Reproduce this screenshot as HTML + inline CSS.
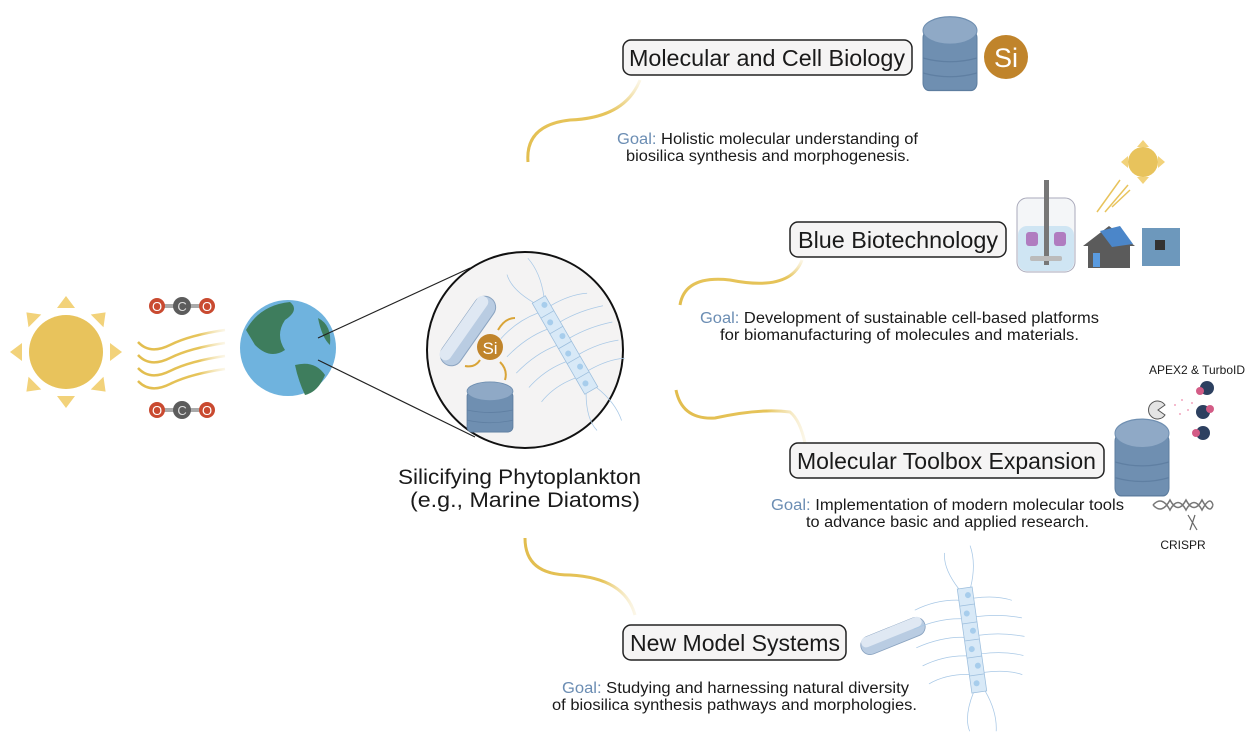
<!DOCTYPE html>
<html><head><meta charset="utf-8"><style>
html,body{margin:0;padding:0;background:#fff}
svg{display:block}
text{font-family:"Liberation Sans",sans-serif;fill:#1a1a1a}
</style></head><body>
<svg width="1250" height="739" viewBox="0 0 1250 739" xmlns="http://www.w3.org/2000/svg">
<defs>
<linearGradient id="fadeUp" x1="0" y1="1" x2="0" y2="0"><stop offset="0" stop-color="#e2bd4e"/><stop offset="0.6" stop-color="#e6c45a"/><stop offset="1" stop-color="#f3e3b2" stop-opacity="0.3"/></linearGradient>
<linearGradient id="fadeR" x1="0" y1="0" x2="1" y2="0"><stop offset="0" stop-color="#e2bd4e"/><stop offset="0.7" stop-color="#e6c45a"/><stop offset="1" stop-color="#f3e3b2" stop-opacity="0.3"/></linearGradient>
<g id="cyl">
<rect x="-27" y="-22" width="54" height="48" rx="6" fill="#6f8fb1"/>
<rect x="-27" y="-22" width="54" height="48" rx="6" fill="none" stroke="#5d7d9f" stroke-width="1"/>
<path d="M-27 0 Q0 6 27 0 M-27 12 Q0 18 27 12" stroke="#5f7fa2" fill="none"/>
<ellipse cx="0" cy="-22" rx="27" ry="11" fill="#8fa9c6" stroke="#6f8fb1"/>
</g>
<g id="pen">
<rect x="-40" y="-11" width="80" height="22" rx="11" fill="#b9cce2" stroke="#8aa3c0"/>
<rect x="-38" y="-11" width="76" height="12" rx="6" fill="#dfe8f3"/>
</g>
<g id="chain" stroke="#a8c8e6" fill="none" stroke-width="1">
<path d="M-8 -70 Q-25 -100 -20 -120 M8 -70 Q20 -100 15 -125 M-8 70 Q-25 100 -20 120 M8 70 Q20 100 15 125"/>
<path d="M-10 -55 Q-40 -60 -70 -50 M10 -55 Q40 -55 60 -45 M-10 -30 Q-40 -35 -75 -25 M10 -30 Q40 -30 70 -20 M-10 -5 Q-40 -10 -75 0 M10 -5 Q40 -5 70 5 M-10 20 Q-40 15 -70 25 M10 20 Q40 20 65 30 M-10 45 Q-40 40 -65 50 M10 45 Q40 45 60 55"/>
<rect x="-10" y="-70" width="20" height="140" fill="#d8e9f7" stroke="#9cbedd"/>
<path d="M-10 -47 H10 M-10 -23 H10 M-10 0 H10 M-10 23 H10 M-10 47 H10" stroke="#9cbedd"/>
<g fill="#a7cdec" stroke="none"><circle cx="3" cy="-60" r="4"/><circle cx="-2" cy="-36" r="4"/><circle cx="3" cy="-12" r="4"/><circle cx="-2" cy="12" r="4"/><circle cx="3" cy="35" r="4"/><circle cx="-2" cy="58" r="4"/></g>
</g>
<g id="co2">
<rect x="-25" y="-2" width="50" height="4" fill="#aaa"/>
<circle cx="-25" cy="0" r="8" fill="#c94a30"/><circle cx="0" cy="0" r="9" fill="#5c5c5c"/><circle cx="25" cy="0" r="8" fill="#c94a30"/>
<text x="-25" y="5" font-size="13" text-anchor="middle" style="fill:#fff">O</text>
<text x="0" y="5" font-size="13" text-anchor="middle" style="fill:#ddd">C</text>
<text x="25" y="5" font-size="13" text-anchor="middle" style="fill:#fff">O</text>
</g>
</defs>

<!-- Sun -->
<g fill="#f2d27a" transform="translate(66,352)">
<polygon points="0,-56 9,-44 -9,-44"/>
<polygon points="0,-56 9,-44 -9,-44" transform="rotate(45)"/>
<polygon points="0,-56 9,-44 -9,-44" transform="rotate(90)"/>
<polygon points="0,-56 9,-44 -9,-44" transform="rotate(135)"/>
<polygon points="0,-56 9,-44 -9,-44" transform="rotate(180)"/>
<polygon points="0,-56 9,-44 -9,-44" transform="rotate(225)"/>
<polygon points="0,-56 9,-44 -9,-44" transform="rotate(270)"/>
<polygon points="0,-56 9,-44 -9,-44" transform="rotate(315)"/>
</g>
<circle cx="66" cy="352" r="37" fill="#e8c35c"/>
<!-- waves -->
<g fill="none" stroke="url(#fadeR)" stroke-width="2.5">
<path d="M138 342 Q150 355 170 345 T225 330"/>
<path d="M138 355 Q150 368 170 358 T225 343"/>
<path d="M138 368 Q150 381 170 371 T225 356"/>
<path d="M138 381 Q150 394 170 384 T225 369"/>
</g>
<use href="#co2" x="182" y="306"/>
<use href="#co2" x="182" y="410"/>
<!-- Globe -->
<circle cx="288" cy="348" r="48" fill="#6fb3de"/>
<path d="M246 330 Q260 305 290 302 Q300 310 285 320 Q275 335 285 350 Q270 360 255 345 Z" fill="#3e7d5d"/>
<path d="M295 365 Q315 360 325 375 Q318 392 305 395 Q298 380 295 365 Z" fill="#3e7d5d"/>
<path d="M318 318 Q332 325 330 345 Q322 338 318 318 Z" fill="#3e7d5d"/>
<!-- zoom lines -->
<line x1="318" y1="338" x2="470" y2="268" stroke="#222" stroke-width="1.2"/>
<line x1="318" y1="360" x2="475" y2="437" stroke="#222" stroke-width="1.2"/>
<!-- Circle -->
<circle cx="525" cy="350" r="98" fill="#f4f3f3" stroke="#111" stroke-width="2"/>
<use href="#pen" transform="translate(468,331) rotate(-55)"/>
<use href="#cyl" transform="translate(490,410) scale(0.85)"/>
<use href="#chain" transform="translate(565,345) rotate(-30) scale(0.75)"/>
<circle cx="490" cy="347" r="13" fill="#c0842b"/>
<text x="490" y="354" font-size="17" text-anchor="middle" style="fill:#fff">Si</text>
<g stroke="#d9a437" stroke-width="2" fill="none"><path d="M498 330 Q505 318 515 318"/><path d="M480 360 Q475 368 465 366"/><path d="M500 362 Q508 370 505 380"/></g>

<text x="398" y="484" font-size="21" textLength="243" lengthAdjust="spacingAndGlyphs">Silicifying Phytoplankton</text>
<text x="410" y="507" font-size="21" textLength="230" lengthAdjust="spacingAndGlyphs">(e.g., Marine Diatoms)</text>

<!-- connectors -->
<g fill="none" stroke-width="3">
<path d="M528 162 Q525 125 570 120 Q625 118 640 80" stroke="url(#fadeUp)"/>
<path d="M680 305 Q685 275 730 280 Q790 292 802 260" stroke="url(#fadeUp)"/>
<path d="M676 390 Q682 420 715 418 Q760 408 790 412 Q800 420 805 443" stroke="url(#fadeR)"/>
<path d="M525 538 Q525 575 570 575 Q625 578 635 615" stroke="url(#fadeR)"/>
</g>

<!-- Boxes -->
<g fill="#f5f4f4" stroke="#222" stroke-width="1.5">
<rect x="623" y="40" width="289" height="35" rx="8"/>
<rect x="790" y="222" width="216" height="35" rx="8"/>
<rect x="790" y="443" width="314" height="35" rx="8"/>
<rect x="623" y="625" width="223" height="35" rx="8"/>
</g>
<g font-size="23">
<text x="629" y="66" textLength="276" lengthAdjust="spacingAndGlyphs">Molecular and Cell Biology</text>
<text x="798" y="248" textLength="200" lengthAdjust="spacingAndGlyphs">Blue Biotechnology</text>
<text x="797" y="469" textLength="299" lengthAdjust="spacingAndGlyphs">Molecular Toolbox Expansion</text>
<text x="630" y="651" textLength="210" lengthAdjust="spacingAndGlyphs">New Model Systems</text>
</g>
<g font-size="15.5">
<text x="617" y="144" textLength="301" lengthAdjust="spacingAndGlyphs"><tspan style="fill:#6b8db3">Goal:</tspan> Holistic molecular understanding of</text>
<text x="626" y="161" textLength="284" lengthAdjust="spacingAndGlyphs">biosilica synthesis and morphogenesis.</text>
<text x="700" y="323" textLength="399" lengthAdjust="spacingAndGlyphs"><tspan style="fill:#6b8db3">Goal:</tspan> Development of sustainable cell-based platforms</text>
<text x="720" y="340" textLength="359" lengthAdjust="spacingAndGlyphs">for biomanufacturing of molecules and materials.</text>
<text x="771" y="510" textLength="353" lengthAdjust="spacingAndGlyphs"><tspan style="fill:#6b8db3">Goal:</tspan> Implementation of modern molecular tools</text>
<text x="806" y="527" textLength="283" lengthAdjust="spacingAndGlyphs">to advance basic and applied research.</text>
<text x="562" y="693" textLength="347" lengthAdjust="spacingAndGlyphs"><tspan style="fill:#6b8db3">Goal:</tspan> Studying and harnessing natural diversity</text>
<text x="552" y="710" textLength="365" lengthAdjust="spacingAndGlyphs">of biosilica synthesis pathways and morphologies.</text>
</g>

<!-- Box1 icons -->
<use href="#cyl" transform="translate(950,58) scale(1.0,1.25)"/>
<circle cx="1006" cy="57" r="22" fill="#c0842b"/>
<text x="1006" y="67" font-size="27" text-anchor="middle" style="fill:#fff">Si</text>

<!-- Box2 icons -->
<rect x="1017" y="198" width="58" height="74" rx="10" fill="#f4f6f8" stroke="#aab"/>
<rect x="1018" y="226" width="56" height="45" rx="9" fill="#cfe5f3"/>
<rect x="1044" y="180" width="5" height="85" fill="#777"/>
<rect x="1030" y="256" width="32" height="5" rx="2" fill="#bbb"/>
<rect x="1026" y="232" width="12" height="14" rx="3" fill="#b07cc0"/><rect x="1054" y="232" width="12" height="14" rx="3" fill="#b07cc0"/>
<polygon points="1083,246 1109,226 1135,246 1130,246 1130,268 1088,268 1088,246" fill="#5b5b5b"/>
<polygon points="1100,231 1120,226 1133,244 1112,247" fill="#4b86c9"/>
<rect x="1093" y="253" width="7" height="14" fill="#5a9be0"/>
<rect x="1142" y="228" width="38" height="38" fill="#6d98bc"/>
<rect x="1155" y="240" width="10" height="10" fill="#333"/>
<g fill="#f2d27a"><polygon points="1143,140 1149,147 1137,147"/><polygon points="1143,184 1149,177 1137,177"/><polygon points="1121,162 1128,156 1128,168"/><polygon points="1165,162 1158,156 1158,168"/></g>
<circle cx="1143" cy="162" r="15" fill="#e8c35c"/>
<g stroke="#e8c35c" stroke-width="1.5"><line x1="1097" y1="212" x2="1120" y2="180"/><line x1="1105" y1="212" x2="1128" y2="185"/><line x1="1112" y1="207" x2="1130" y2="190"/></g>

<!-- Box3 icons -->
<use href="#cyl" transform="translate(1142,462) scale(1.0,1.3)"/>
<text x="1197" y="374" font-size="12" text-anchor="middle">APEX2 &amp; TurboID</text>
<path d="M1165 405 L1158 410 L1165 415 A9 9 0 1 1 1165 405 Z" fill="#e4e4e4" stroke="#555"/>
<g fill="#f2a6bf"><circle cx="1175" cy="405" r="1"/><circle cx="1182" cy="400" r="1"/><circle cx="1188" cy="410" r="1"/><circle cx="1180" cy="414" r="1"/><circle cx="1192" cy="403" r="1"/></g>
<g fill="#2d4060"><circle cx="1207" cy="388" r="7"/><circle cx="1203" cy="412" r="7"/><circle cx="1203" cy="433" r="7"/></g>
<g fill="#d35c86"><circle cx="1200" cy="391" r="4"/><circle cx="1210" cy="409" r="4"/><circle cx="1196" cy="433" r="4"/></g>
<path d="M1153 505 Q1162 495 1170 510 Q1178 495 1186 510 Q1194 495 1202 510 Q1210 495 1213 505 M1153 505 Q1162 515 1170 500 Q1178 515 1186 500 Q1194 515 1202 500 Q1210 515 1213 505" fill="none" stroke="#777" stroke-width="1.5"/>
<path d="M1188 515 L1197 530 M1195 515 L1190 530" stroke="#666" stroke-width="1.2"/>
<text x="1183" y="549" font-size="12" text-anchor="middle">CRISPR</text>

<!-- Box4 icons -->
<use href="#pen" transform="translate(893,636) rotate(-22) scale(0.85)"/>
<use href="#chain" transform="translate(972,640) rotate(-8) scale(0.75)"/>
</svg>
</body></html>
